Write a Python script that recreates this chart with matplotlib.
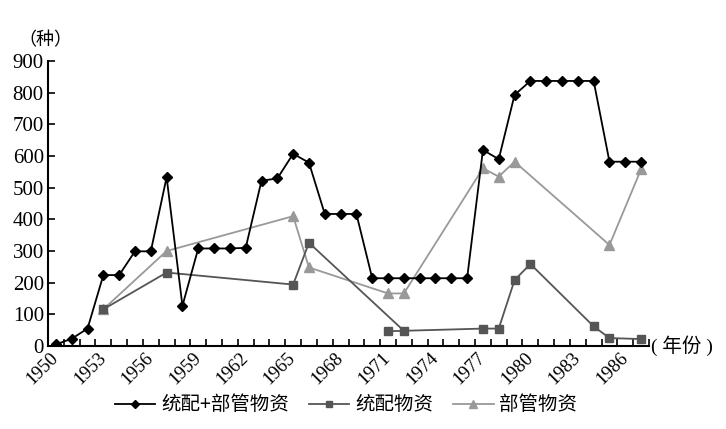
import matplotlib
matplotlib.use('Agg')
import matplotlib.pyplot as plt
from matplotlib.ticker import FixedLocator, MultipleLocator

# 年份（类目轴）
years = list(range(1950, 1988))
label_years = list(range(1950, 1988, 3))

# 统配+部管物资
total = [5, 23, 55, 224, 224, 299, 299, 533, 127, 308, 308, 308, 310,
         522, 529, 607, 579, 417, 417, 417, 214, 214, 214, 214, 214, 214,
         214, 619, 590, 793, 837, 837, 837, 837, 837, 582, 582, 582]

# 统配物资
tongpei_years = [1953, 1957, 1965, 1966, 1971, 1972, 1977, 1978, 1979, 1980, 1984, 1985, 1987]
tongpei = [116, 232, 194, 326, 48, 48, 55, 55, 208, 259, 62, 25, 22]
# 原图中折线跳过这一年，只和下一年短线相连
tongpei_skip = [1971]

# 部管物资
bugun_years = [1953, 1957, 1965, 1966, 1971, 1972, 1977, 1978, 1979, 1985, 1987]
bugun = [116, 300, 410, 248, 166, 166, 561, 535, 582, 319, 558]

plt.rcParams['font.family'] = ['Liberation Serif', 'Noto Sans CJK SC']
plt.rcParams['axes.unicode_minus'] = False

fig = plt.figure(figsize=(7.26, 4.29), dpi=100)
ax = fig.add_axes([48 / 726, 1 - 346 / 429, 601 / 726, 285 / 429])

c_black, c_dark, c_light = 'black', '#555555', '#999999'

ax.plot(years, total, color=c_black, lw=1.3, marker='D', ms=4.6,
        label='统配+部管物资', zorder=4)

# 统配物资：连线（跳过孤立年份）+ 全部标记
line_x = [y for y in tongpei_years if y not in tongpei_skip]
line_y = [v for y, v in zip(tongpei_years, tongpei) if y not in tongpei_skip]
ax.plot(line_x, line_y, color=c_dark, lw=1.3, zorder=3)
for y in tongpei_skip:
    i = tongpei_years.index(y)
    ax.plot(tongpei_years[i:i + 2], tongpei[i:i + 2], color=c_dark, lw=1.3, zorder=3)
ax.plot(tongpei_years, tongpei, ls='none', marker='s', ms=5.6, color=c_dark, zorder=3)
ax.plot([], [], color=c_dark, lw=1.3, marker='s', ms=5.6, label='统配物资')

ax.plot(bugun_years, bugun, color=c_light, lw=1.3, marker='^', ms=6.5,
        label='部管物资', zorder=2)

ax.set_xlim(years[0] - 0.5, years[-1] + 0.5)
ax.set_ylim(0, 900)

ax.spines['top'].set_visible(False)
ax.spines['right'].set_visible(False)
for s in ('left', 'bottom'):
    ax.spines[s].set_linewidth(1.5)

ax.xaxis.set_major_locator(FixedLocator(label_years))
ax.xaxis.set_minor_locator(FixedLocator([y + 0.5 for y in years]))
ax.tick_params(axis='x', which='major', length=0, pad=7, labelsize=13.5)
ax.tick_params(axis='x', which='minor', direction='in', length=5, width=1.2)
ax.set_xticklabels([str(y) for y in label_years], rotation=45, ha='right',
                   va='center', rotation_mode='anchor')

ax.yaxis.set_major_locator(MultipleLocator(100))
ax.tick_params(axis='y', direction='in', length=5, width=1.2, pad=3, labelsize=15)

fig.text(45 / 726, 1 - 40 / 429, '（种）', ha='center', va='center',
         fontsize=13, family='Noto Sans CJK SC')
fig.text(651 / 726, 1 - 346 / 429, '( 年份 )', ha='left', va='center',
         fontsize=14)

fig.legend(loc='center', bbox_to_anchor=(346 / 726, 1 - 405 / 429), ncol=3,
           frameon=False, prop={'family': 'Noto Sans CJK SC', 'size': 14},
           handlelength=2.1, handletextpad=0.3, columnspacing=1.0,
           markerscale=0.85)

fig.savefig('out.png', dpi=100)
